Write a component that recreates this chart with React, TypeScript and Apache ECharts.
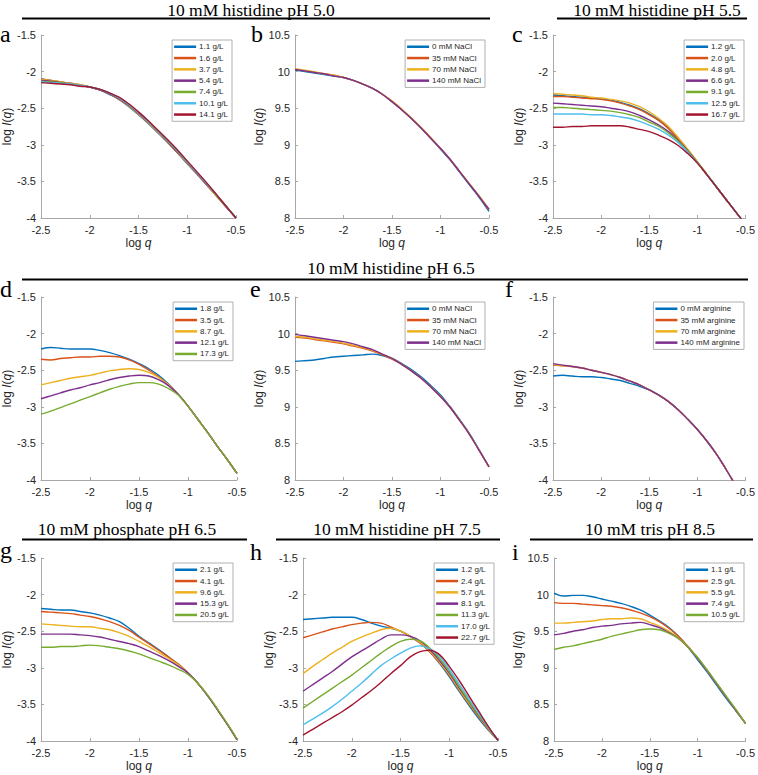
import React, { useEffect, useRef } from "react";
import * as echarts from "echarts";

const xs = [-2.5, -2.4, -2.3, -2.2, -2.1, -2.0, -1.9, -1.8, -1.7, -1.6, -1.5, -1.4, -1.3, -1.2, -1.1, -1.0, -0.9, -0.8, -0.7, -0.6, -0.5];
const xTicks = [-2.5, -2, -1.5, -1, -0.5];

const colors = ["#0072BD", "#D95319", "#EDB120", "#7E2F8E", "#77AC30", "#4DBEEE", "#A2142F"];

// a: 10 mM histidine pH 5.0, concentration series
const aNames = ["1.1 g/L", "1.6 g/L", "3.7 g/L", "5.4 g/L", "7.4 g/L", "10.1 g/L", "14.1 g/L"];
const aValues = [
  [-2.10, -2.12, -2.14, -2.16, -2.185, -2.21, -2.25, -2.31, -2.38, -2.48, -2.59, -2.71, -2.84, -2.97, -3.11, -3.26, -3.40, -3.55, -3.70, -3.85, -4.00],
  [-2.10, -2.12, -2.14, -2.16, -2.18, -2.21, -2.25, -2.30, -2.38, -2.47, -2.58, -2.70, -2.83, -2.97, -3.11, -3.25, -3.40, -3.55, -3.70, -3.85, -4.00],
  [-2.11, -2.12, -2.14, -2.16, -2.18, -2.21, -2.25, -2.30, -2.37, -2.47, -2.58, -2.70, -2.83, -2.96, -3.10, -3.25, -3.39, -3.54, -3.70, -3.85, -4.00],
  [-2.12, -2.13, -2.15, -2.17, -2.19, -2.21, -2.25, -2.30, -2.37, -2.46, -2.57, -2.69, -2.82, -2.96, -3.10, -3.24, -3.39, -3.54, -3.69, -3.85, -4.00],
  [-2.13, -2.14, -2.15, -2.17, -2.19, -2.21, -2.24, -2.29, -2.36, -2.45, -2.56, -2.68, -2.81, -2.95, -3.09, -3.23, -3.38, -3.53, -3.69, -3.84, -4.00],
  [-2.14, -2.15, -2.16, -2.17, -2.19, -2.21, -2.24, -2.29, -2.36, -2.45, -2.56, -2.68, -2.81, -2.94, -3.08, -3.23, -3.38, -3.53, -3.68, -3.84, -4.00],
  [-2.15, -2.16, -2.17, -2.18, -2.20, -2.21, -2.24, -2.29, -2.35, -2.44, -2.55, -2.67, -2.80, -2.93, -3.07, -3.22, -3.37, -3.52, -3.68, -3.84, -4.00],
];

// b: 10 mM histidine pH 5.0, NaCl series
const bNames = ["0 mM NaCl", "35 mM NaCl", "70 mM NaCl", "140 mM NaCl"];
const bValues = [
  [10.02, 10.00, 9.98, 9.96, 9.94, 9.92, 9.88, 9.83, 9.77, 9.69, 9.59, 9.48, 9.36, 9.23, 9.09, 8.94, 8.79, 8.62, 8.45, 8.28, 8.09],
  [10.03, 10.01, 9.99, 9.97, 9.95, 9.92, 9.88, 9.83, 9.77, 9.69, 9.59, 9.48, 9.36, 9.23, 9.09, 8.95, 8.80, 8.63, 8.46, 8.29, 8.11],
  [10.04, 10.02, 10.00, 9.97, 9.95, 9.92, 9.88, 9.83, 9.77, 9.69, 9.60, 9.49, 9.37, 9.24, 9.10, 8.95, 8.80, 8.63, 8.47, 8.30, 8.12],
  [10.03, 10.01, 9.99, 9.97, 9.94, 9.92, 9.88, 9.83, 9.77, 9.69, 9.59, 9.48, 9.36, 9.23, 9.09, 8.95, 8.80, 8.63, 8.46, 8.29, 8.12],
];

// c: 10 mM histidine pH 5.5
const cNames = ["1.2 g/L", "2.0 g/L", "4.8 g/L", "6.6 g/L", "9.1 g/L", "12.5 g/L", "16.7 g/L"];
const cValues = [
  [-2.32, -2.33, -2.34, -2.35, -2.36, -2.37, -2.39, -2.42, -2.46, -2.51, -2.58, -2.66, -2.77, -2.91, -3.07, -3.24, -3.41, -3.58, -3.75, -3.92, -4.09],
  [-2.34, -2.34, -2.35, -2.36, -2.37, -2.38, -2.40, -2.43, -2.47, -2.52, -2.59, -2.67, -2.78, -2.92, -3.08, -3.24, -3.41, -3.58, -3.75, -3.92, -4.09],
  [-2.30, -2.31, -2.32, -2.33, -2.35, -2.36, -2.38, -2.40, -2.43, -2.48, -2.55, -2.64, -2.75, -2.90, -3.06, -3.23, -3.40, -3.58, -3.75, -3.92, -4.09],
  [-2.43, -2.44, -2.45, -2.46, -2.47, -2.48, -2.50, -2.52, -2.55, -2.60, -2.66, -2.73, -2.82, -2.94, -3.08, -3.24, -3.41, -3.58, -3.75, -3.92, -4.09],
  [-2.49, -2.49, -2.50, -2.51, -2.52, -2.53, -2.54, -2.56, -2.59, -2.63, -2.69, -2.75, -2.84, -2.95, -3.09, -3.24, -3.41, -3.58, -3.75, -3.92, -4.09],
  [-2.58, -2.58, -2.58, -2.58, -2.59, -2.59, -2.60, -2.62, -2.64, -2.68, -2.73, -2.79, -2.87, -2.97, -3.10, -3.25, -3.41, -3.58, -3.75, -3.92, -4.09],
  [-2.76, -2.76, -2.75, -2.75, -2.74, -2.74, -2.74, -2.74, -2.76, -2.79, -2.82, -2.87, -2.93, -3.01, -3.12, -3.25, -3.41, -3.58, -3.75, -3.92, -4.09],
];

// d: 10 mM histidine pH 6.5
const dNames = ["1.8 g/L", "3.5 g/L", "8.7 g/L", "12.1 g/L", "17.3 g/L"];
const dValues = [
  [-2.21, -2.19, -2.20, -2.21, -2.21, -2.21, -2.23, -2.26, -2.30, -2.35, -2.41, -2.48, -2.57, -2.69, -2.83, -2.99, -3.17, -3.35, -3.54, -3.72, -3.91],
  [-2.35, -2.36, -2.34, -2.33, -2.32, -2.32, -2.31, -2.31, -2.32, -2.36, -2.42, -2.50, -2.59, -2.70, -2.83, -2.99, -3.17, -3.35, -3.54, -3.72, -3.91],
  [-2.70, -2.67, -2.64, -2.61, -2.59, -2.57, -2.54, -2.51, -2.49, -2.48, -2.49, -2.53, -2.60, -2.70, -2.83, -2.99, -3.17, -3.35, -3.54, -3.72, -3.91],
  [-2.89, -2.85, -2.81, -2.77, -2.74, -2.70, -2.67, -2.63, -2.60, -2.58, -2.57, -2.58, -2.63, -2.71, -2.83, -2.99, -3.17, -3.35, -3.54, -3.72, -3.91],
  [-3.10, -3.06, -3.01, -2.96, -2.91, -2.86, -2.81, -2.76, -2.72, -2.69, -2.67, -2.67, -2.69, -2.75, -2.84, -2.99, -3.17, -3.35, -3.54, -3.72, -3.91],
];

// e: 10 mM histidine pH 6.5, NaCl series
const eNames = ["0 mM NaCl", "35 mM NaCl", "70 mM NaCl", "140 mM NaCl"];
const eValues = [
  [9.62, 9.63, 9.64, 9.66, 9.68, 9.69, 9.70, 9.71, 9.72, 9.70, 9.66, 9.59, 9.51, 9.41, 9.29, 9.16, 9.00, 8.82, 8.63, 8.41, 8.18],
  [9.95, 9.94, 9.92, 9.90, 9.88, 9.86, 9.83, 9.80, 9.76, 9.71, 9.65, 9.58, 9.49, 9.39, 9.27, 9.14, 8.99, 8.81, 8.62, 8.40, 8.18],
  [9.96, 9.95, 9.93, 9.91, 9.89, 9.87, 9.84, 9.81, 9.77, 9.72, 9.66, 9.58, 9.49, 9.39, 9.27, 9.14, 8.99, 8.81, 8.62, 8.40, 8.18],
  [9.99, 9.97, 9.95, 9.93, 9.91, 9.89, 9.86, 9.82, 9.78, 9.72, 9.66, 9.58, 9.49, 9.39, 9.27, 9.14, 8.99, 8.81, 8.62, 8.40, 8.18],
];

// f: 10 mM histidine pH 6.5, arginine series
const fNames = ["0 mM arginine", "35 mM arginine", "70 mM arginine", "140 mM arginine"];
const fValues = [
  [-2.58, -2.57, -2.58, -2.59, -2.59, -2.60, -2.62, -2.64, -2.68, -2.72, -2.77, -2.84, -2.93, -3.04, -3.17, -3.31, -3.47, -3.65, -3.86, -4.08, -4.30],
  [-2.43, -2.44, -2.45, -2.47, -2.50, -2.53, -2.56, -2.60, -2.65, -2.70, -2.77, -2.84, -2.93, -3.04, -3.17, -3.31, -3.47, -3.65, -3.86, -4.08, -4.30],
  [-2.42, -2.44, -2.45, -2.47, -2.50, -2.53, -2.56, -2.60, -2.65, -2.70, -2.77, -2.84, -2.93, -3.04, -3.17, -3.31, -3.47, -3.65, -3.86, -4.08, -4.30],
  [-2.41, -2.43, -2.45, -2.47, -2.50, -2.53, -2.56, -2.60, -2.65, -2.70, -2.77, -2.84, -2.93, -3.04, -3.17, -3.31, -3.47, -3.65, -3.86, -4.08, -4.30],
];

// g: 10 mM phosphate pH 6.5
const gNames = ["2.1 g/L", "4.1 g/L", "9.6 g/L", "15.3 g/L", "20.5 g/L"];
const gValues = [
  [-2.19, -2.20, -2.21, -2.21, -2.23, -2.25, -2.28, -2.32, -2.37, -2.46, -2.57, -2.66, -2.75, -2.85, -2.95, -3.07, -3.21, -3.38, -3.57, -3.77, -3.98],
  [-2.23, -2.24, -2.25, -2.26, -2.28, -2.30, -2.33, -2.37, -2.42, -2.49, -2.58, -2.67, -2.76, -2.85, -2.95, -3.07, -3.21, -3.38, -3.57, -3.77, -3.98],
  [-2.40, -2.41, -2.42, -2.43, -2.44, -2.44, -2.46, -2.48, -2.52, -2.57, -2.64, -2.71, -2.79, -2.87, -2.96, -3.07, -3.21, -3.38, -3.57, -3.77, -3.98],
  [-2.54, -2.54, -2.54, -2.54, -2.55, -2.56, -2.58, -2.61, -2.64, -2.67, -2.71, -2.77, -2.83, -2.90, -2.98, -3.07, -3.21, -3.38, -3.57, -3.77, -3.98],
  [-2.72, -2.72, -2.71, -2.71, -2.70, -2.69, -2.70, -2.72, -2.74, -2.77, -2.81, -2.86, -2.91, -2.96, -3.02, -3.09, -3.21, -3.37, -3.56, -3.76, -3.97],
];

// h: 10 mM histidine pH 7.5
const hNames = ["1.2 g/L", "2.4 g/L", "5.7 g/L", "8.1 g/L", "11.3 g/L", "17.0 g/L", "22.7 g/L"];
const hValues = [
  [-2.34, -2.33, -2.32, -2.31, -2.31, -2.31, -2.34, -2.39, -2.43, -2.46, -2.50, -2.57, -2.66, -2.78, -2.94, -3.12, -3.32, -3.51, -3.69, -3.85, -3.99],
  [-2.59, -2.55, -2.51, -2.47, -2.44, -2.41, -2.39, -2.38, -2.39, -2.44, -2.50, -2.57, -2.66, -2.78, -2.93, -3.10, -3.30, -3.49, -3.67, -3.84, -3.99],
  [-3.08, -2.98, -2.89, -2.80, -2.72, -2.64, -2.58, -2.53, -2.48, -2.46, -2.50, -2.57, -2.65, -2.77, -2.92, -3.09, -3.29, -3.48, -3.66, -3.83, -3.99],
  [-3.32, -3.23, -3.14, -3.05, -2.95, -2.85, -2.77, -2.69, -2.61, -2.55, -2.55, -2.57, -2.63, -2.75, -2.90, -3.07, -3.27, -3.46, -3.65, -3.82, -3.99],
  [-3.55, -3.46, -3.37, -3.28, -3.19, -3.10, -3.00, -2.90, -2.80, -2.71, -2.64, -2.61, -2.63, -2.73, -2.87, -3.05, -3.25, -3.45, -3.64, -3.82, -3.99],
  [-3.78, -3.70, -3.62, -3.53, -3.43, -3.32, -3.21, -3.09, -2.97, -2.88, -2.80, -2.73, -2.70, -2.74, -2.84, -3.02, -3.22, -3.42, -3.62, -3.81, -3.99],
  [-3.92, -3.84, -3.76, -3.68, -3.60, -3.51, -3.41, -3.31, -3.20, -3.08, -2.97, -2.85, -2.78, -2.76, -2.82, -2.98, -3.17, -3.38, -3.59, -3.80, -3.99],
];

// i: 10 mM tris pH 8.5
const iNames = ["1.1 g/L", "2.5 g/L", "5.5 g/L", "7.4 g/L", "10.5 g/L"];
const iValues = [
  [10.02, 9.98, 9.99, 9.99, 9.97, 9.94, 9.91, 9.88, 9.84, 9.79, 9.72, 9.64, 9.55, 9.43, 9.28, 9.11, 8.94, 8.76, 8.58, 8.41, 8.24],
  [9.89, 9.88, 9.88, 9.87, 9.86, 9.85, 9.84, 9.82, 9.79, 9.75, 9.70, 9.63, 9.54, 9.43, 9.29, 9.13, 8.96, 8.78, 8.60, 8.42, 8.24],
  [9.61, 9.61, 9.62, 9.63, 9.64, 9.66, 9.67, 9.67, 9.68, 9.67, 9.62, 9.57, 9.50, 9.41, 9.28, 9.13, 8.96, 8.78, 8.60, 8.42, 8.24],
  [9.45, 9.47, 9.50, 9.52, 9.55, 9.57, 9.58, 9.60, 9.61, 9.62, 9.59, 9.55, 9.48, 9.40, 9.28, 9.13, 8.96, 8.78, 8.60, 8.42, 8.24],
  [9.25, 9.28, 9.30, 9.33, 9.36, 9.39, 9.43, 9.46, 9.49, 9.52, 9.53, 9.52, 9.47, 9.40, 9.28, 9.14, 8.97, 8.79, 8.61, 8.43, 8.24],
];

const titles = [
  { text: "10 mM histidine pH 5.0", cx: 251, cy: 9.7, x1: 22, x2: 490, ly: 18.5 },
  { text: "10 mM histidine pH 5.5", cx: 657, cy: 9.7, x1: 557, x2: 747, ly: 18.5 },
  { text: "10 mM histidine pH 6.5", cx: 391, cy: 268, x1: 22, x2: 748, ly: 279.5 },
  { text: "10 mM phosphate pH 6.5", cx: 127, cy: 529, x1: 22, x2: 247, ly: 539.5 },
  { text: "10 mM histidine pH 7.5", cx: 397, cy: 529, x1: 276, x2: 500, ly: 539.5 },
  { text: "10 mM tris pH 8.5", cx: 650, cy: 529, x1: 530, x2: 753, ly: 539.5 },
];

const panels = [
  { key: "a", names: aNames, values: aValues, yMin: -4, yMax: -1.5, left: 41, top: 35, width: 195, lx: 0, ly: 34 },
  { key: "b", names: bNames, values: bValues, yMin: 8, yMax: 10.5, left: 295, top: 35, width: 194, lx: 251, ly: 34 },
  { key: "c", names: cNames, values: cValues, yMin: -4, yMax: -1.5, left: 553, top: 35, width: 195, lx: 512, ly: 34 },
  { key: "d", names: dNames, values: dValues, yMin: -4, yMax: -1.5, left: 41, top: 297, width: 196, lx: 0, ly: 289 },
  { key: "e", names: eNames, values: eValues, yMin: 8, yMax: 10.5, left: 295, top: 297, width: 194, lx: 250, ly: 289 },
  { key: "f", names: fNames, values: fValues, yMin: -4, yMax: -1.5, left: 553, top: 297, width: 195, lx: 505, ly: 289 },
  { key: "g", names: gNames, values: gValues, yMin: -4, yMax: -1.5, left: 41, top: 558, width: 196, lx: 0, ly: 550 },
  { key: "h", names: hNames, values: hValues, yMin: -4, yMax: -1.5, left: 303, top: 558, width: 195, lx: 250, ly: 552 },
  { key: "i", names: iNames, values: iValues, yMin: 8, yMax: 10.5, left: 554, top: 558, width: 194, lx: 512, ly: 552 },
];

const PLOT_H = 183;
const SANS = "'Liberation Sans', Arial, Helvetica, sans-serif";
const SERIF = "'Liberation Serif', 'Times New Roman', serif";
const AXIS_COLOR = "#a8a8a8";
const TEXT_COLOR = "#262626";

function buildOption() {
  const grid: any[] = [];
  const xAxis: any[] = [];
  const yAxis: any[] = [];
  const legend: any[] = [];
  const series: any[] = [];
  const graphic: any[] = [];

  panels.forEach((p, k) => {
    grid.push({ left: p.left, top: p.top, width: p.width, height: PLOT_H, containLabel: false });
    const rich = {
      i: { fontStyle: "italic", fontSize: 12, fontFamily: SANS, color: TEXT_COLOR },
    };
    xAxis.push({
      type: "value",
      gridIndex: k,
      min: -2.5,
      max: -0.5,
      interval: 0.5,
      name: "log {i|q}",
      nameLocation: "middle",
      nameGap: 19,
      nameTextStyle: { fontSize: 12, fontFamily: SANS, color: TEXT_COLOR, rich },
      axisLine: { show: true, lineStyle: { color: AXIS_COLOR, width: 1 } },
      axisTick: { show: true, inside: true, length: 3, lineStyle: { color: AXIS_COLOR } },
      axisLabel: {
        fontSize: 11,
        fontFamily: SANS,
        color: TEXT_COLOR,
        margin: 6,
        showMinLabel: true,
        showMaxLabel: true,
        formatter: (v: number) => (xTicks.includes(v) ? String(v) : ""),
      },
      splitLine: { show: false },
    });
    yAxis.push({
      type: "value",
      gridIndex: k,
      min: p.yMin,
      max: p.yMax,
      interval: 0.5,
      name: "log {i|I}({i|q})",
      nameLocation: "middle",
      nameGap: 24,
      nameTextStyle: { fontSize: 12, fontFamily: SANS, color: TEXT_COLOR, rich },
      axisLine: { show: true, lineStyle: { color: AXIS_COLOR, width: 1 } },
      axisTick: { show: true, inside: true, length: 3, lineStyle: { color: AXIS_COLOR } },
      axisLabel: { fontSize: 11, fontFamily: SANS, color: TEXT_COLOR, margin: 5 },
      splitLine: { show: false },
    });
    const ids = p.names.map((n) => n + "|" + p.key);
    legend.push({
      data: ids,
      orient: "vertical",
      right: 758 - (p.left + p.width - 4),
      top: p.top + 5,
      icon: "rect",
      itemWidth: 22,
      itemHeight: 2.5,
      itemGap: 1.8,
      padding: [2, 4, 2, 2],
      borderColor: "#b0b0b0",
      borderWidth: 1,
      backgroundColor: "#ffffff",
      selectedMode: false,
      formatter: (n: string) => n.split("|")[0],
      textStyle: { fontSize: 8, fontFamily: SANS, color: TEXT_COLOR, lineHeight: 9.5, padding: [0, 0, 0, -2] },
    });
    p.values.forEach((vals, j) => {
      series.push({
        type: "line",
        name: ids[j],
        xAxisIndex: k,
        yAxisIndex: k,
        data: xs.map((x, m) => [x, vals[m]]),
        showSymbol: false,
        symbol: "none",
        smooth: 0.4,
        clip: true,
        color: colors[j],
        lineStyle: { width: 1.4, color: colors[j] },
      });
    });
    graphic.push({
      type: "text",
      x: p.lx,
      y: p.ly,
      style: {
        text: p.key,
        font: `24px ${SERIF}`,
        fill: "#000",
        textAlign: "left",
        textVerticalAlign: "middle",
      },
    });
  });

  titles.forEach((t) => {
    graphic.push({
      type: "text",
      x: t.cx,
      y: t.cy,
      style: {
        text: t.text,
        font: `17.5px ${SERIF}`,
        fill: "#000",
        textAlign: "center",
        textVerticalAlign: "middle",
      },
    });
    graphic.push({
      type: "line",
      shape: { x1: t.x1, y1: t.ly, x2: t.x2, y2: t.ly },
      style: { stroke: "#000", lineWidth: 2 },
    });
  });

  return {
    animation: false,
    backgroundColor: "#ffffff",
    grid,
    xAxis,
    yAxis,
    legend,
    series,
    graphic,
  };
}

export default function App() {
  const ref = useRef<HTMLDivElement>(null);
  useEffect(() => {
    if (!ref.current) return;
    const chart = echarts.init(ref.current, undefined, { renderer: "svg" });
    chart.setOption(buildOption() as any);
    return () => chart.dispose();
  }, []);
  return (
    <div
      ref={ref}
      style={{ position: "fixed", left: 0, top: 0, width: 758, height: 775, background: "#fff" }}
    />
  );
}
